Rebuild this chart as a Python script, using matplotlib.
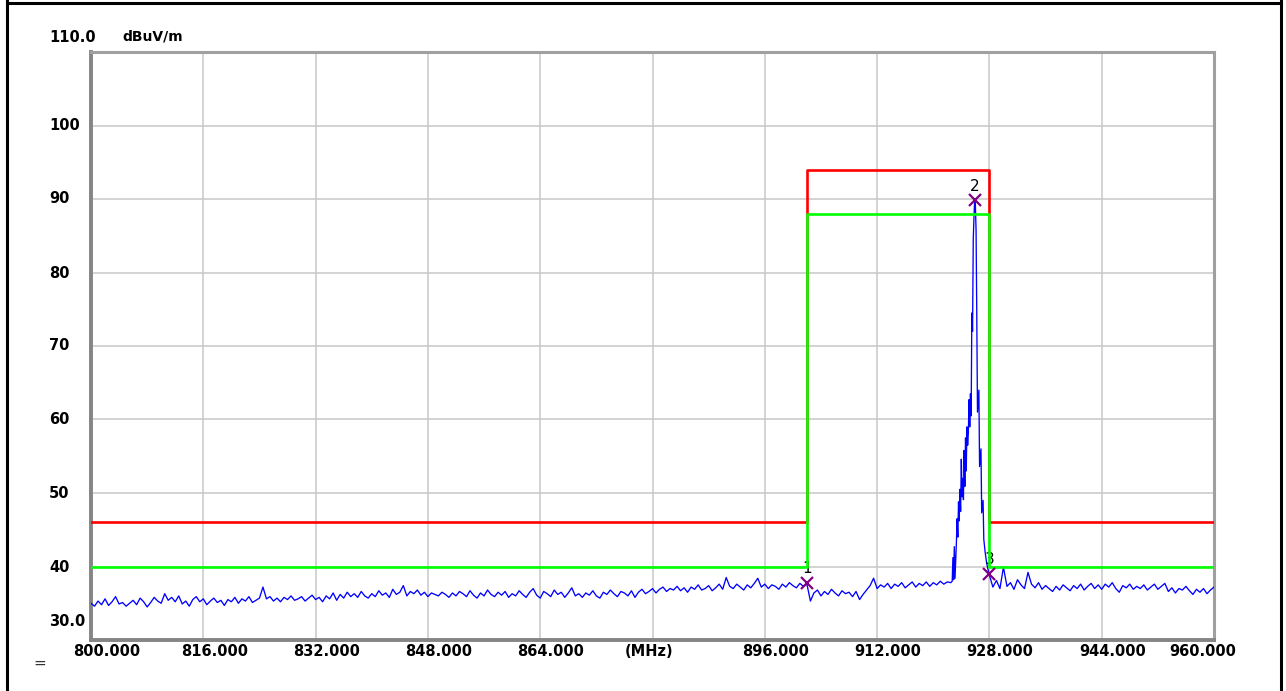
import matplotlib
matplotlib.use("Agg")
import matplotlib.pyplot as plt
from matplotlib.lines import Line2D
import numpy as np

# trace levels (dBuV/m), 0.5 MHz steps from 800.0 to 922.0
level_low = [
    35.0, 34.6, 35.3, 34.8, 35.6, 34.7, 35.2, 35.9, 34.9, 35.1, 34.6, 35.0, 35.4, 34.8, 35.7, 35.2, 34.5, 35.1, 35.8, 35.3,
    35.0, 36.3, 35.4, 35.8, 35.2, 36.0, 34.9, 35.3, 34.6, 35.5, 35.9, 35.2, 35.6, 34.8, 35.3, 35.7, 35.1, 35.4, 34.7, 35.5,
    35.2, 35.8, 35.0, 35.6, 35.3, 35.9, 35.1, 35.4, 35.7, 37.2, 35.6, 35.9, 35.3, 35.7, 35.2, 35.8, 35.5, 36.0, 35.4, 35.6,
    35.9, 35.3, 35.7, 36.1, 35.5, 35.8, 35.2, 36.0, 35.6, 36.4, 35.4, 36.2, 35.7, 36.5, 35.9, 36.3, 35.8, 36.6, 36.0, 35.7,
    36.3, 35.9, 36.7, 36.1, 36.4, 35.8, 36.9, 36.2, 36.5, 37.4, 36.0, 36.6, 36.3, 36.8, 36.1, 36.5, 35.9, 36.4, 36.2, 36.0,
    36.5, 36.2, 35.8, 36.4, 36.0, 36.6, 36.3, 35.9, 36.7, 36.1, 35.7, 36.4, 36.0, 36.8, 36.2, 35.9, 36.5, 36.1, 36.6, 35.8,
    36.3, 36.0, 36.7, 36.2, 35.8, 36.5, 37.0, 36.1, 35.7, 36.6, 36.3, 35.9, 36.8, 36.2, 36.5, 35.8, 36.4, 37.1, 36.0, 36.3,
    35.8, 36.4, 36.1, 36.7, 36.0, 35.7, 36.5, 36.2, 36.8, 36.3, 35.9, 36.6, 36.4, 36.0, 36.7, 35.8, 36.5, 36.9, 36.3, 36.6,
    37.0, 36.4, 36.9, 37.2, 36.6, 37.0, 36.8, 37.3, 36.7, 37.1, 36.5, 37.2, 36.9, 37.5, 36.8, 37.0, 37.4, 36.7, 37.1, 37.6,
    36.9, 38.5, 37.3, 37.0, 37.6, 37.2, 36.8, 37.5, 37.1, 37.7, 38.4, 37.2, 37.6, 37.0, 37.5, 37.3, 36.9, 37.6, 37.2, 37.8,
    37.4, 37.1, 37.7, 37.3, 37.6, 35.3, 36.4, 36.8, 36.0, 36.6, 36.2, 36.9, 36.4, 36.0, 36.7, 36.3, 36.5, 35.9, 36.6, 35.5,
    36.2, 36.8, 37.4, 38.4, 37.0, 37.5, 37.2, 37.7, 37.0, 37.6, 37.3, 37.8, 37.1, 37.5, 37.9, 37.2, 37.7, 37.4, 37.9, 37.3,
    37.8, 37.5, 38.0, 37.6, 37.9,
]
low_start = 800.0

# emission around the carrier
peak_freq = [922.5, 922.7, 922.8, 922.9, 923.0, 923.1, 923.3, 923.4, 923.5, 923.6, 923.7, 923.8, 923.9,
             924.0, 924.1, 924.2, 924.3, 924.4, 924.5, 924.6, 924.7, 924.8, 924.9, 925.0, 925.1, 925.2,
             925.3, 925.4, 925.5, 925.6, 925.7, 925.8, 925.9, 926.0, 926.1, 926.2, 926.3, 926.5, 926.6,
             926.8, 926.9, 927.1, 927.2, 927.4, 927.6, 927.8, 928.0]
peak_level = [37.8, 38.0, 41.2, 38.2, 42.7, 38.4, 43.3, 46.5, 44.0, 48.8, 46.2, 50.5, 47.5,
              54.6, 49.5, 52.0, 49.1, 55.8, 50.9, 57.5, 53.0, 59.0, 56.5, 58.2, 62.7, 59.0,
              63.5, 60.5, 74.5, 72.0, 84.5, 87.5, 89.8, 89.2, 85.8, 74.5, 61.0, 64.0, 53.6,
              56.0, 47.3, 49.0, 43.7, 41.9, 40.5, 39.6, 38.8]

# 0.5 MHz steps from 928.5 to 960.0
level_high = [
    37.2, 38.1, 37.0,
    39.9, 37.3, 37.8, 36.9, 38.2, 37.5, 37.0, 39.2, 37.6, 37.1, 37.8, 36.9, 37.4, 37.0, 36.6, 37.3, 36.8, 37.5, 37.1, 36.7,
    37.4, 37.0, 37.6, 36.8, 37.3, 37.7, 37.0, 37.5, 36.9, 37.6, 37.2, 37.8, 37.0, 36.5, 37.4, 37.1, 37.6, 36.9, 37.3, 37.0,
    37.5, 36.8, 37.2, 37.6, 36.9, 37.3, 37.7, 36.6, 37.1, 36.4, 37.0, 36.8, 37.3, 36.7, 36.2, 36.9, 36.5, 37.0, 36.3, 36.8,
    37.2,
]
high_start = 928.5

# limit lines
limit_freq = [800, 902, 902, 928, 928, 960]
qp_limit = [46, 46, 94, 94, 46, 46]
av_limit = [40, 40, 88, 88, 40, 40]

# markers
mk_id = ["1", "2", "3"]
mk_freq = [902.0, 925.9, 928.0]
mk_level = [37.8, 89.8, 39.0]

x_ticks = [800, 816, 832, 848, 864, 880, 896, 912, 928, 944, 960]
x_labels = ["800.000", "816.000", "832.000", "848.000", "864.000", "(MHz)",
            "896.000", "912.000", "928.000", "944.000", "960.000"]
y_ticks = [30, 40, 50, 60, 70, 80, 90, 100, 110]
y_labels = ["30.0", "40", "50", "60", "70", "80", "90", "100", "110.0"]

f_low = low_start + 0.5 * np.arange(len(level_low))
f_high = high_start + 0.5 * np.arange(len(level_high))
freq = np.concatenate([f_low, peak_freq, f_high])
level = np.concatenate([level_low, peak_level, level_high])

W, H = 1286, 691
fig = plt.figure(figsize=(W / 100, H / 100), dpi=100)
ax = fig.add_axes([91 / W, 1 - 640 / H, (1214 - 91) / W, (640 - 52) / H])
ax.set_xlim(800, 960)
ax.set_ylim(30, 110)

ax.set_xticks(x_ticks)
ax.set_yticks(y_ticks)
ax.grid(True, color="#c8c8c8", linewidth=1.1)
ax.tick_params(length=0, labelbottom=False, labelleft=False)
for s in ["top", "right"]:
    ax.spines[s].set_color("#a0a0a0")
    ax.spines[s].set_linewidth(2.2)
for s in ["left", "bottom"]:
    ax.spines[s].set_color("#858585")
    ax.spines[s].set_linewidth(2.8)

ax.plot(limit_freq, qp_limit, color="#ff0000", linewidth=1.9, zorder=3)
ax.plot(freq, level, color="#0000ff", linewidth=0.95, zorder=4)
for i in range(len(mk_id)):
    ax.text(mk_freq[i], mk_level[i] + 0.9, mk_id[i], ha="center", va="bottom",
            fontsize=11, color="black", zorder=4)
ax.plot(limit_freq, av_limit, color="#00ff00", linewidth=1.9, zorder=5)
ax.plot(mk_freq, mk_level, linestyle="none", marker="x", markersize=8,
        markeredgewidth=1.6, color="#800080", zorder=6)

# tick labels drawn as text so their offsets match the analyzer screen
px = 160 / (1214 - 91)
x_shift = [16, 11, 11, 11, 10, -3, 11, 11, 10, 11, -11]
for t, lab, dx in zip(x_ticks, x_labels, x_shift):
    ax.text(t + dx * px, 30 - 11 * 80 / 588, lab, ha="center", va="center",
            fontsize=10.5, fontweight="bold", clip_on=False)

y_pos = [622, 567, 494, 420, 346, 273, 199, 125, 38]
for lab, yp in zip(y_labels, y_pos):
    fig.text(49 / W, 1 - yp / H, lab, ha="left", va="center",
             fontsize=10.5, fontweight="bold")
fig.text(122 / W, 1 - 37 / H, "dBuV/m", ha="left", va="center",
         fontsize=10, fontweight="bold")
fig.text(40 / W, 1 - 663 / H, "=", ha="center", va="center", fontsize=11, color="#333333")

# outer frame of the screenshot
for xs, ys in [([7, 7], [0, H]), ([7, 1281], [3, 3]), ([1281, 1281], [0, H])]:
    fig.add_artist(Line2D([x / W for x in xs], [1 - y / H for y in ys],
                          color="black", linewidth=2.2, transform=fig.transFigure))

fig.savefig("out.png", dpi=100)
